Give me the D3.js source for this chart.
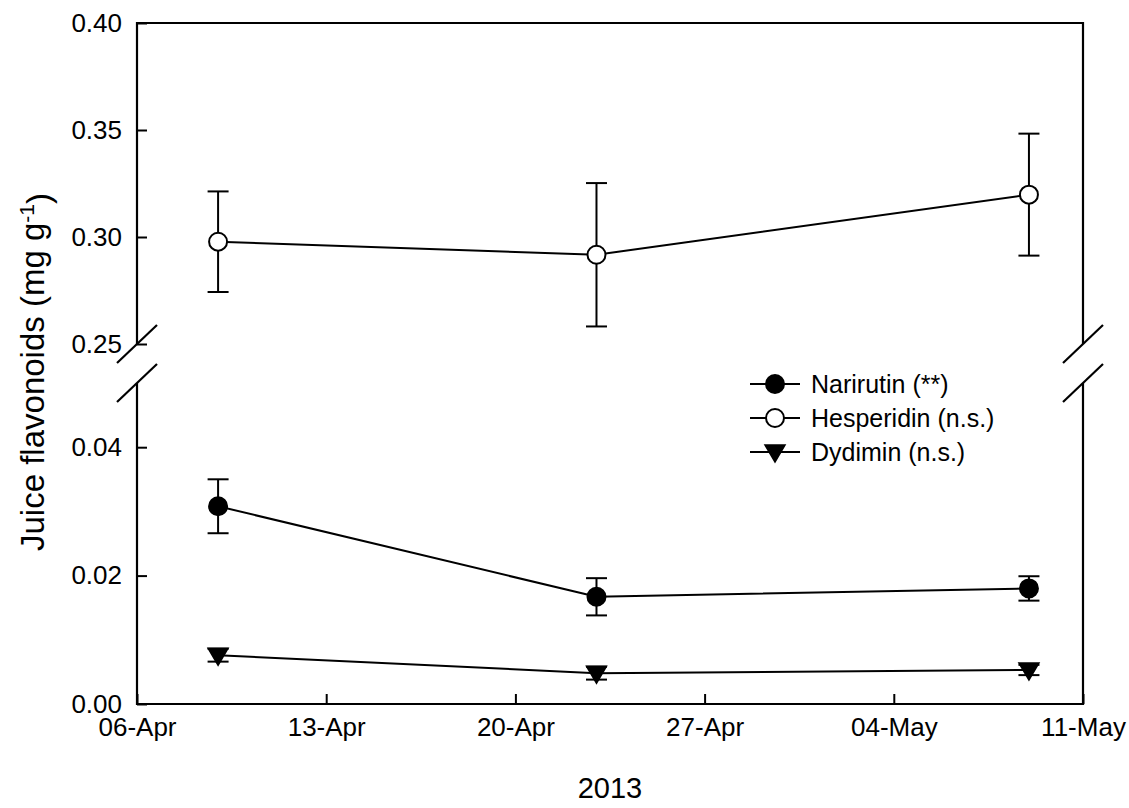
<!DOCTYPE html>
<html>
<head>
<meta charset="utf-8">
<script src="https://cdn.jsdelivr.net/npm/d3@7"></script>
<style>
  body { margin: 0; background: #fff; }
  svg text { font-family: "Liberation Sans", Arial, sans-serif; fill: #000; }
</style>
</head>
<body>
<svg id="chart" width="1129" height="808"></svg>
<script>
// Sampling dates
const dates = ["2013-04-09", "2013-04-23", "2013-05-09"];

// Mean juice flavonoid content (mg g-1) and error (±)
const narirutin = [0.0308, 0.0167, 0.0180];
const narirutinErr = [0.0042, 0.0029, 0.0019];
const hesperidin = [0.2978, 0.2917, 0.3198];
const hesperidinErr = [0.0235, 0.0335, 0.0285];
const dydimin = [0.0076, 0.0048, 0.0053];
const dydiminErr = [0.0010, 0.0010, 0.0008];

const seriesNames = ["Narirutin (**)", "Hesperidin (n.s.)", "Dydimin (n.s.)"];
const lowerTicks = [0.00, 0.02, 0.04];
const upperTicks = [0.25, 0.30, 0.35, 0.40];
const dateTicks = ["2013-04-06", "2013-04-13", "2013-04-20", "2013-04-27", "2013-05-04", "2013-05-11"];

const svg = d3.select("#chart");
const plotLeft = 137, plotRight = 1083, plotTop = 23, plotBottom = 704;
const breakLow = 383, breakHigh = 344;

const parse = d3.utcParse("%Y-%m-%d");
const x = d3.scaleUtc()
  .domain([parse(dateTicks[0]), parse(dateTicks[dateTicks.length - 1])])
  .range([plotLeft, plotRight]);
const yLow = d3.scaleLinear().domain([0, 0.05]).range([plotBottom, breakLow]);
const yHigh = d3.scaleLinear().domain([0.25, 0.40]).range([breakHigh, plotTop]);
const y = v => (v >= 0.2 ? yHigh(v) : yLow(v));

const fmt = d3.format(".2f");

// Y axis, upper segment
const gHigh = svg.append("g").attr("transform", `translate(${plotLeft},0)`)
  .call(d3.axisLeft(yHigh).tickValues(upperTicks).tickFormat(fmt).tickSizeInner(-10).tickSizeOuter(0).tickPadding(15));
// Y axis, lower segment
const gLow = svg.append("g").attr("transform", `translate(${plotLeft},0)`)
  .call(d3.axisLeft(yLow).tickValues(lowerTicks).tickFormat(fmt).tickSizeInner(-10).tickSizeOuter(0).tickPadding(15));
// X axis
const gX = svg.append("g").attr("transform", `translate(0,${plotBottom})`)
  .call(d3.axisBottom(x).tickValues(dateTicks.map(parse)).tickFormat(d3.utcFormat("%d-%b"))
    .tickSizeInner(-10).tickSizeOuter(0).tickPadding(14));

[gHigh, gLow, gX].forEach(g => {
  g.attr("font-size", null).attr("font-family", null);
  g.select(".domain").remove();
  g.selectAll(".tick line").attr("stroke", "#000").attr("stroke-width", 2);
  g.selectAll(".tick text").style("font-size", "26px");
});

// Frame with axis breaks on both sides
const frame = svg.append("g").attr("stroke", "#000").attr("stroke-width", 2.2).attr("fill", "none");
frame.append("path").attr("d", `M${plotLeft},${breakHigh}V${plotTop}H${plotRight}V${breakHigh}`);
frame.append("path").attr("d", `M${plotLeft},${breakLow}V${plotBottom}H${plotRight}V${breakLow}`);
[plotLeft, plotRight].forEach(xx => {
  [breakHigh, breakLow].forEach(yy => {
    frame.append("line")
      .attr("x1", xx - 20).attr("y1", yy + 19)
      .attr("x2", xx + 20).attr("y2", yy - 19);
  });
});

// Series
const series = [
  { name: seriesNames[0], values: narirutin, err: narirutinErr, symbol: "circle", fill: "#000" },
  { name: seriesNames[1], values: hesperidin, err: hesperidinErr, symbol: "circle", fill: "#fff" },
  { name: seriesNames[2], values: dydimin, err: dydiminErr, symbol: "triangle", fill: "#000" }
];

function drawMarker(g, s, cx, cy) {
  if (s.symbol === "circle") {
    g.append("circle").attr("cx", cx).attr("cy", cy).attr("r", 9)
      .attr("fill", s.fill).attr("stroke", "#000").attr("stroke-width", 2);
  } else {
    g.append("path")
      .attr("d", `M${cx - 10},${cy - 7}L${cx + 10},${cy - 7}L${cx},${cy + 10}Z`)
      .attr("fill", s.fill).attr("stroke", "#000").attr("stroke-width", 1.5);
  }
}

const line = d3.line().x(d => x(parse(d.date))).y(d => y(d.v));

series.forEach(s => {
  const pts = dates.map((d, i) => ({ date: d, v: s.values[i], e: s.err[i] }));
  const g = svg.append("g");
  // error bars
  pts.forEach(p => {
    const cx = x(parse(p.date));
    const y1 = y(p.v + p.e), y2 = y(p.v - p.e);
    g.append("line").attr("x1", cx).attr("x2", cx).attr("y1", y1).attr("y2", y2)
      .attr("stroke", "#000").attr("stroke-width", 2);
    [y1, y2].forEach(yy => g.append("line").attr("x1", cx - 10.5).attr("x2", cx + 10.5)
      .attr("y1", yy).attr("y2", yy).attr("stroke", "#000").attr("stroke-width", 2));
  });
  g.append("path").datum(pts).attr("d", line)
    .attr("fill", "none").attr("stroke", "#000").attr("stroke-width", 2);
  pts.forEach(p => drawMarker(g, s, x(parse(p.date)), y(p.v)));
});

// Legend
const legend = svg.append("g").attr("transform", "translate(750,384)");
series.forEach((s, i) => {
  const g = legend.append("g").attr("transform", `translate(0,${i * 34})`);
  g.append("line").attr("x1", 0).attr("x2", 50).attr("y1", 0).attr("y2", 0)
    .attr("stroke", "#000").attr("stroke-width", 2);
  drawMarker(g, s, 25, 0);
  g.append("text").attr("x", 61).attr("y", 0).attr("dy", "0.36em")
    .style("font-size", "25px").text(s.name);
});

// Axis titles
svg.append("text").attr("x", (plotLeft + plotRight) / 2).attr("y", 798)
  .attr("text-anchor", "middle").style("font-size", "29px").text("2013");

const yt = svg.append("text")
  .attr("transform", `translate(44,372) rotate(-90)`)
  .attr("text-anchor", "middle").style("font-size", "33px");
yt.append("tspan").text("Juice flavonoids (mg g");
yt.append("tspan").attr("dy", "-0.5em").style("font-size", "21px").text("-1");
yt.append("tspan").attr("dy", "0.5em").text(")");
</script>
</body>
</html>
